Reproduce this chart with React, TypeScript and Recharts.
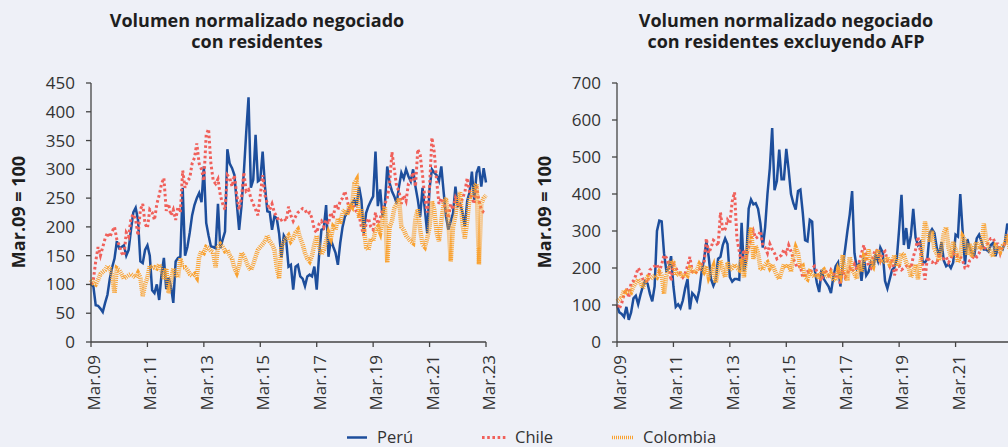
import React from 'react';
import { LineChart, Line, XAxis, YAxis } from 'recharts';

// ---------- data ----------
const X_TICK_MONTHS = [0, 24, 48, 72, 96, 120, 144, 168];
const X_TICK_LABELS = ['Mar.09', 'Mar.11', 'Mar.13', 'Mar.15', 'Mar.17', 'Mar.19', 'Mar.21', 'Mar.23'];
const LEFT_Y_TICKS = [0, 50, 100, 150, 200, 250, 300, 350, 400, 450];
const RIGHT_Y_TICKS = [0, 100, 200, 300, 400, 500, 600, 700];
const SERIES_NAMES = ['Perú', 'Chile', 'Colombia'];
const TITLE_LEFT = ['Volumen normalizado negociado', 'con residentes'];
const TITLE_RIGHT = ['Volumen normalizado negociado', 'con residentes excluyendo AFP'];
const Y_LABEL = 'Mar.09 = 100';

// Panel 1: total residents (monthly, Mar.09 .. Mar.23)
const PERU_TOTAL = [
  100, 97, 64, 63, 58, 52, 68, 82, 110, 130, 145, 175,
  163, 165, 168, 150, 160, 195, 225, 233, 212, 140, 137, 160,
  168, 150, 90, 85, 100, 73, 118, 146, 92, 112, 97, 68,
  140, 146, 148, 268, 150, 165, 190, 220, 238, 250, 259, 243,
  305, 207, 185, 166, 165, 163, 240, 163, 178, 192, 335, 310,
  302, 290, 241, 195, 236, 294, 363, 425, 268, 282, 360, 279,
  282, 331, 270, 227, 226, 195, 218, 215, 189, 146, 185, 178,
  131, 134, 91, 131, 134, 114, 110, 97, 114, 117, 114, 131,
  91, 150, 195, 197, 238, 148, 178, 166, 155, 134, 172, 200,
  218, 225, 233, 241, 247, 236, 270, 247, 189, 224, 236, 245,
  253, 331, 236, 265, 218, 239, 305, 276, 262, 253, 241, 270,
  294, 284, 300, 288, 279, 300, 270, 247, 218, 268, 230, 189,
  267, 300, 294, 290, 280, 305, 260, 218, 195, 210, 224, 270,
  236, 240, 225, 200, 245, 260, 296, 247, 294, 305, 270, 302,
  277,
];
const CHILE_TOTAL = [
  100, 108, 140, 165, 150, 165, 180, 190, 182, 192, 200, 178,
  168, 155, 150, 190, 183, 215, 222, 212, 185, 230, 240, 205,
  198, 230, 225, 212, 240, 255, 275, 285, 228, 240, 220, 230,
  212, 235, 225, 298, 268, 280, 285, 310, 320, 345, 310, 300,
  280, 360, 370, 310, 280, 275, 283, 255, 240, 230, 290, 285,
  270, 290, 255, 230, 250, 295, 262, 265, 250, 240, 230, 220,
  255, 290, 255, 240, 230, 240, 225, 218, 210, 212, 215, 210,
  235, 220, 210, 218, 225, 228, 232, 230, 222, 225, 215, 195,
  190, 205, 210, 200, 212, 205, 225, 215, 240, 230, 245, 250,
  262, 245, 230, 240, 235, 225, 220, 200, 185, 205, 215, 200,
  195, 225, 205, 215, 230, 240, 250, 275, 330, 300, 270, 262,
  240, 255, 245, 275, 280, 295, 270, 335, 325, 290, 250, 225,
  270, 355, 330, 280, 240, 250, 240, 230, 215, 240, 230, 250,
  240, 235, 250, 260, 285, 260, 250, 240, 270, 245, 230, 225,
  222,
];
const COLOMBIA_TOTAL = [
  108, 102, 100, 108, 118, 122, 125, 132, 128, 115, 85, 128,
  125, 118, 110, 113, 116, 118, 115, 112, 120, 112, 80, 100,
  112, 133, 128, 130, 128, 135, 125, 110, 128, 85, 105, 128,
  118, 112, 145, 130, 130, 125, 118, 115, 118, 112, 148, 158,
  155, 165, 163, 158, 155, 130, 165, 170, 165, 158, 160, 150,
  145, 128, 120, 132, 155, 150, 140, 130, 125, 135, 148, 160,
  165, 170, 175, 185, 175, 170, 160, 130, 110, 165, 175, 180,
  185, 175, 180, 190, 195, 180, 170, 155, 145, 140, 150, 170,
  185, 165, 152, 160, 175, 190, 180, 200, 195, 215, 205, 225,
  230, 220, 240, 235, 275, 282, 215, 230, 200, 165, 160, 180,
  175, 195, 200, 190, 215, 235, 138, 200, 210, 232, 240, 250,
  200, 195, 185, 180, 175, 172, 215, 230, 195, 170, 165, 180,
  200, 245, 230, 190, 175, 210, 240, 250, 210, 140, 200, 220,
  250, 260, 205, 180, 210, 250, 255, 270, 275, 135, 240, 250,
  255,
];

// Panel 2: residents excluding AFP
const PERU_EX_AFP = [
  100, 80, 76, 68, 95, 60, 80, 118, 125, 102, 128, 150,
  165, 158, 130, 110, 150, 300, 328, 326, 240, 192, 198, 232,
  150, 95, 102, 92, 112, 145, 170, 88, 132, 125, 112, 140,
  190, 222, 272, 230, 170, 152, 168, 225, 230, 262, 280, 265,
  175, 163, 170, 170, 168, 322, 190, 225, 360, 385, 372, 375,
  360, 320, 255, 310, 400, 470, 578, 410, 435, 520, 440, 440,
  522, 465, 400, 375, 358, 408, 412, 350, 275, 272, 330, 325,
  198, 160, 135, 195, 170, 160, 150, 132, 175, 205, 215, 150,
  205, 250, 300, 345, 408, 240, 200, 212, 165, 228, 180, 190,
  215, 205, 235, 218, 255, 242, 165, 145, 170, 195, 202, 225,
  305, 398, 262, 308, 252, 288, 360, 282, 262, 270, 218, 215,
  225, 295, 305, 295, 255, 232, 270, 220, 205, 210, 200, 215,
  290, 285, 400, 300, 210, 278, 255, 240, 235, 280, 290, 272,
  250, 250, 245, 262, 268, 232, 255, 255, 250, 270, 320, 300,
  290,
];
const CHILE_EX_AFP = [
  100, 90, 105, 128, 145, 120, 160, 165, 180, 200, 190, 170,
  170, 160, 195, 200, 205, 210, 190, 210, 235, 228, 210, 165,
  210, 200, 190, 185, 175, 185, 205, 230, 190, 185, 190, 195,
  210, 210, 280, 240, 255, 275, 270, 260, 350, 300, 305, 330,
  320, 380, 405, 280, 245, 210, 250, 230, 255, 280, 300, 280,
  285, 300, 260, 255, 240, 265, 250, 240, 225, 230, 235, 250,
  240, 262, 245, 225, 210, 200, 205, 175, 180, 190, 185, 200,
  205, 190, 175, 165, 195, 190, 180, 195, 185, 175, 190, 155,
  195, 175, 185, 200, 190, 210, 195, 215, 240, 262, 230, 205,
  200, 235, 250, 245, 220, 240, 245, 220, 205, 225, 180, 200,
  205, 195, 200, 205, 210, 200, 230, 250, 285, 245, 210, 168,
  230, 220, 215, 220, 210, 240, 225, 225, 230, 215, 225, 240,
  230, 235, 230, 220, 200, 200, 220, 225, 235, 230, 240, 255,
  250, 260, 270, 280, 280, 265, 265, 240, 260, 265, 275, 300,
  260,
];
const COLOMBIA_EX_AFP = [
  110, 115, 120, 140, 135, 140, 135, 150, 160, 170, 160, 145,
  165, 175, 170, 175, 180, 175, 190, 182, 130, 180, 200, 220,
  215, 180, 185, 185, 175, 185, 180, 200, 195, 185, 195, 210,
  200, 190, 205, 175, 190, 205, 160, 195, 220, 195, 175, 215,
  195, 200, 210, 200, 195, 225, 175, 230, 270, 310, 225, 260,
  240, 200, 195, 210, 215, 200, 210, 195, 180, 170, 190, 210,
  200, 210, 190, 230, 255, 240, 200, 205, 175, 170, 190, 185,
  175, 185, 170, 190, 195, 180, 175, 185, 170, 165, 195, 180,
  235, 190, 165, 230, 195, 185, 170, 210, 190, 230, 220, 250,
  215, 205, 235, 250, 220, 215, 220, 230, 210, 215, 235, 205,
  210, 240, 235, 215, 205, 175, 190, 210, 170, 210, 260, 325,
  300, 270, 300, 250, 240, 220, 250, 295, 310, 255, 230, 270,
  250, 215, 230, 285, 275, 235, 265, 230, 260, 270, 250, 255,
  320, 280, 255, 240, 230, 260, 255, 245, 260, 265, 290, 250,
  255,
];

// ---------- styles ----------
const FONT = "'Open Sans', 'Noto Sans', sans-serif";
const BG = '#EEF0F7';
const AXIS = '#444';
const TEXT = '#333';
const TITLE = '#1e1e1e';
const C_PE = '#1D4E9C';
const C_CL = '#F0605A';
const C_CO = '#F9A231';
const DASH_CL = '2.6 2.6';
const DASH_CO = '1 1';

function XTick(props: any) {
  const { x, y, payload } = props;
  const idx = X_TICK_MONTHS.indexOf(payload.value);
  return (
    <text
      x={x}
      y={y}
      dy={9}
      transform={`rotate(-90, ${x}, ${y})`}
      textAnchor="end"
      fill={TEXT}
      fontSize={17}
      fontFamily={FONT}
    >
      {X_TICK_LABELS[idx]}
    </text>
  );
}

function Panel(props: { left: number; pe: number[]; cl: number[]; co: number[]; yMax: number; yTicks: number[] }) {
  const { left, pe, cl, co, yMax, yTicks } = props;
  const data = pe.map((v, i) => ({ m: i, pe: v, cl: cl[i], co: co[i] }));
  return (
    <div style={{ position: 'absolute', left, top: 0 }}>
      <LineChart width={504} height={447} data={data} margin={{ top: 83, right: 18, bottom: 0, left: 0 }}>
        <XAxis
          dataKey="m"
          type="number"
          domain={[0, 168]}
          ticks={X_TICK_MONTHS}
          interval={0}
          tick={<XTick />}
          tickSize={5}
          tickMargin={8}
          height={105}
          stroke={AXIS}
          strokeWidth={1.3}
        />
        <YAxis
          type="number"
          domain={[0, yMax]}
          ticks={yTicks}
          interval={0}
          width={91}
          tickSize={5}
          tickMargin={11}
          stroke={AXIS}
          strokeWidth={1.3}
          tick={{ fill: TEXT, fontSize: 17, fontFamily: FONT }}
        />
        <Line type="linear" dataKey="pe" stroke={C_PE} strokeWidth={2.5} dot={false} isAnimationActive={false} />
        <Line type="linear" dataKey="cl" stroke={C_CL} strokeWidth={3} strokeDasharray={DASH_CL} dot={false} isAnimationActive={false} />
        <Line type="linear" dataKey="co" stroke={C_CO} strokeWidth={4.5} strokeDasharray={DASH_CO} dot={false} isAnimationActive={false} />
      </LineChart>
    </div>
  );
}

export default function App() {
  return (
    <div style={{ position: 'absolute', left: 0, top: 0, width: 1008, height: 447, overflow: 'hidden', background: BG }}>
      <Panel left={0} pe={PERU_TOTAL} cl={CHILE_TOTAL} co={COLOMBIA_TOTAL} yMax={450} yTicks={LEFT_Y_TICKS} />
      <Panel left={526} pe={PERU_EX_AFP} cl={CHILE_EX_AFP} co={COLOMBIA_EX_AFP} yMax={700} yTicks={RIGHT_Y_TICKS} />
      <svg width={1008} height={447} style={{ position: 'absolute', left: 0, top: 0, pointerEvents: 'none' }}>
        <g fontFamily={FONT} fontWeight={700} fontSize={18} fill={TITLE} textAnchor="middle">
          <text x={257} y={27}>{TITLE_LEFT[0]}</text>
          <text x={257} y={48}>{TITLE_LEFT[1]}</text>
          <text x={786} y={27}>{TITLE_RIGHT[0]}</text>
          <text x={786} y={48}>{TITLE_RIGHT[1]}</text>
          <text x={25} y={212} transform="rotate(-90, 25, 212)">{Y_LABEL}</text>
          <text x={551} y={212} transform="rotate(-90, 551, 212)">{Y_LABEL}</text>
        </g>
        <g>
          <line x1={347} x2={367} y1={437.5} y2={437.5} stroke={C_PE} strokeWidth={2.5} />
          <line x1={482} x2={507} y1={437.5} y2={437.5} stroke={C_CL} strokeWidth={3} strokeDasharray={DASH_CL} />
          <line x1={612} x2={633} y1={437.5} y2={437.5} stroke={C_CO} strokeWidth={3.5} strokeDasharray={DASH_CO} />
        </g>
        <g fontFamily={FONT} fontSize={16.5} fill={TEXT}>
          <text x={377} y={443}>{SERIES_NAMES[0]}</text>
          <text x={515} y={443}>{SERIES_NAMES[1]}</text>
          <text x={643} y={443}>{SERIES_NAMES[2]}</text>
        </g>
      </svg>
    </div>
  );
}
